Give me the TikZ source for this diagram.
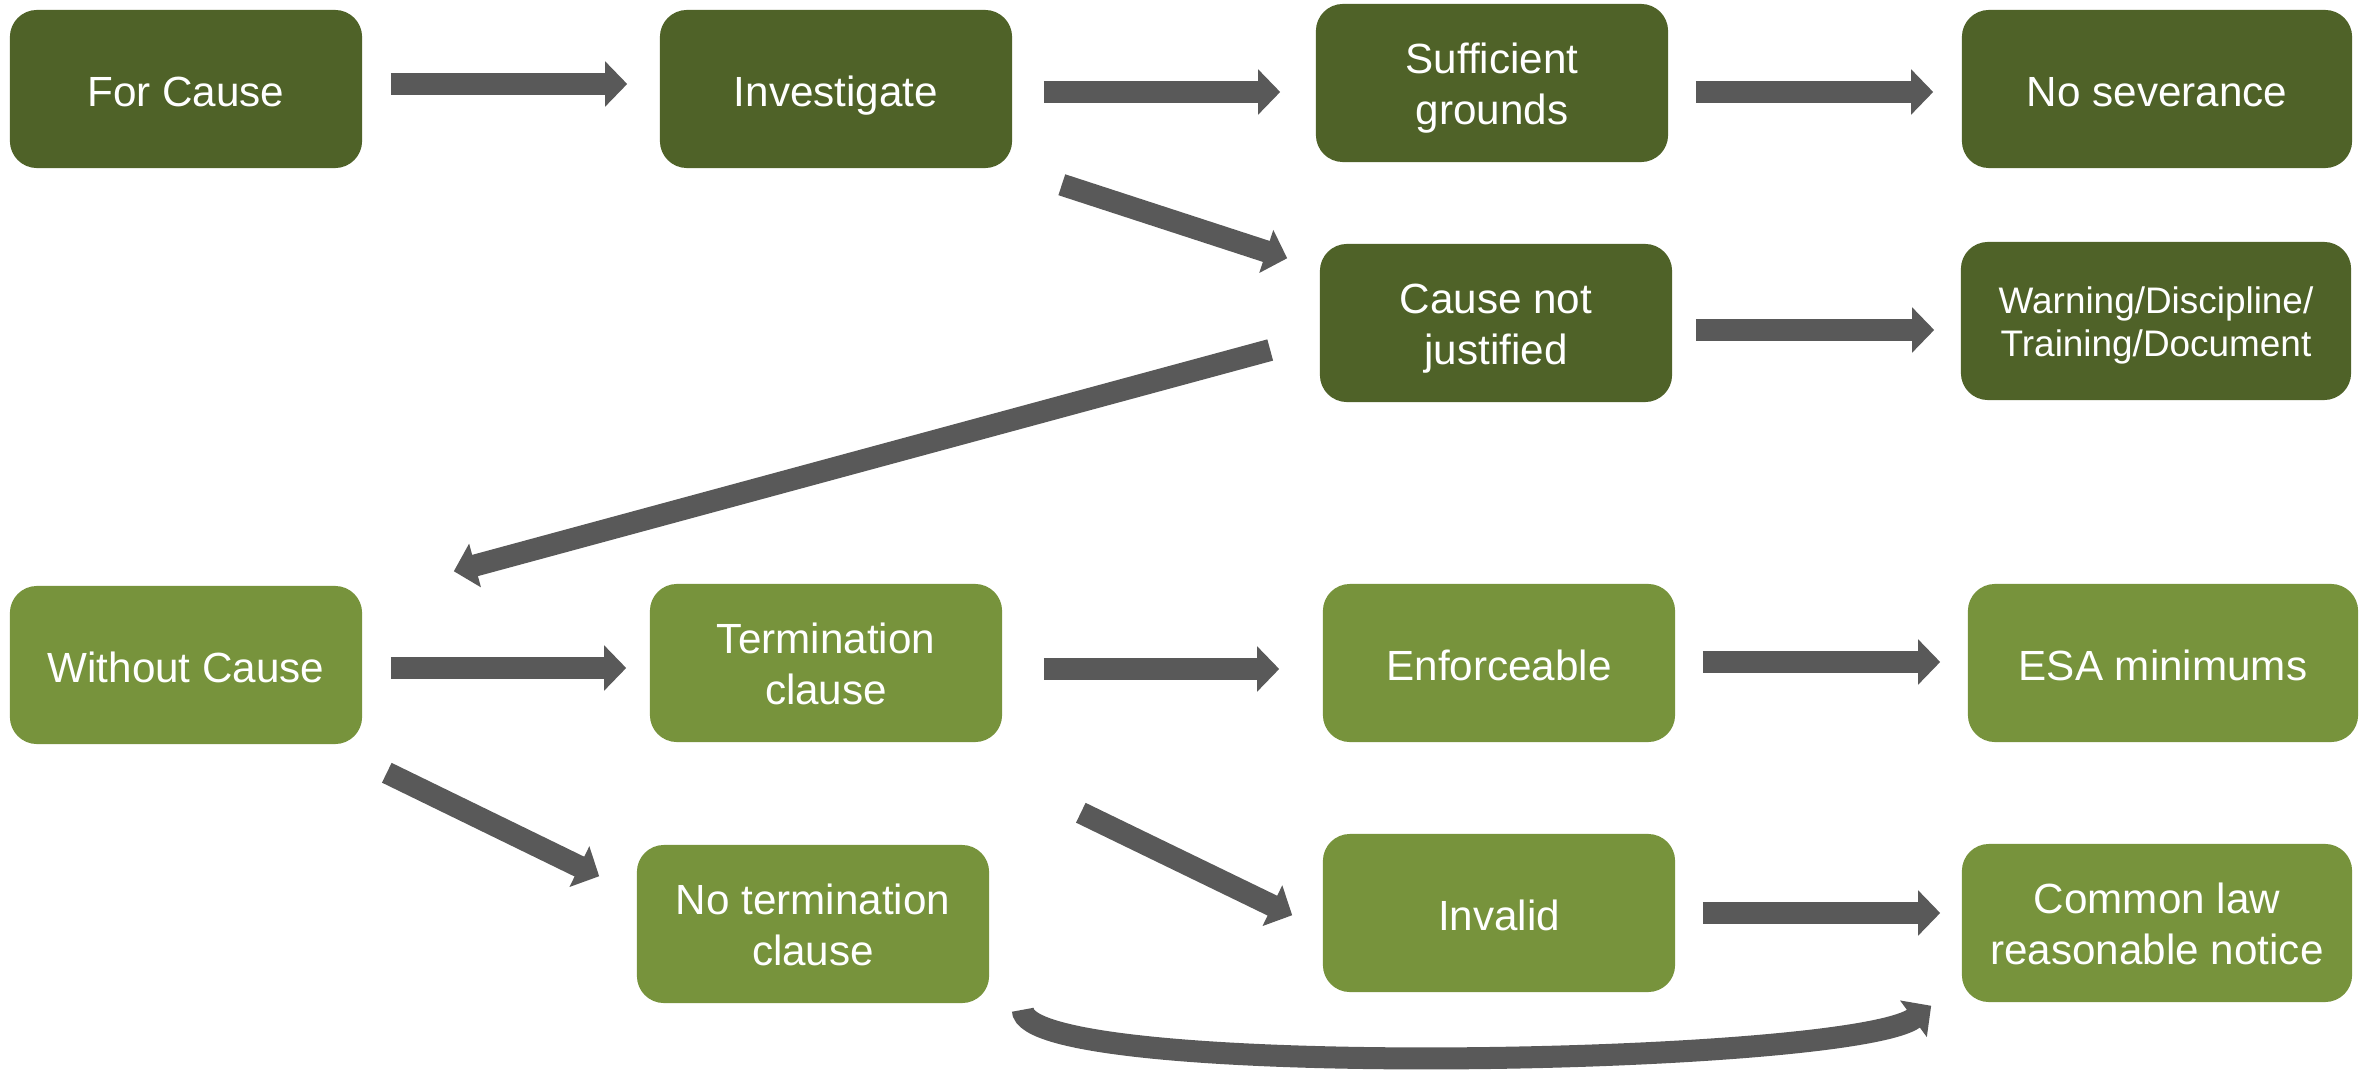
\documentclass[tikz,border=0pt]{standalone}
\usepackage{fontspec}
\setmainfont{Liberation Sans}
\usetikzlibrary{calc, positioning}
\usetikzlibrary{arrows.meta}

\definecolor{causedark}{HTML}{4F6228}
\definecolor{causelight}{HTML}{77933C}
\definecolor{arrowgrey}{HTML}{595959}

% extra room above the first line of a two-line box
\newcommand{\liftline}{\rule{0pt}{0.98em}}

\begin{document}
\begin{tikzpicture}[x=0.01cm, y=-0.01cm,
    box/.style={rounded corners=0.27cm, text=white, align=center,
        minimum width=3.52cm, minimum height=1.58cm, inner sep=0pt,
        font=\fontsize{12}{14.4}\selectfont,
        execute at begin node=\rule{0pt}{1.03em},
        execute at end node=\rule[-0.22em]{0pt}{0.22em}},
    widebox/.style={box, minimum width=3.90cm},
    darkbox/.style={fill=causedark},
    lightbox/.style={fill=causelight},
    blockarrow/.style={draw=arrowgrey, line width=0.22cm,
        -{Triangle[length=0.22cm, width=0.44cm]}, arrowgrey}]
\useasboundingbox (0,0) rectangle (2369,1073);

% for cause branch
\node[box, darkbox] (fc) at (186,89) {For Cause};
\node[box, darkbox] (inv) at (836,89) {Investigate};
\node[box, darkbox] (suf) at (1492,83) {\liftline Sufficient\\grounds};
\node[widebox, darkbox] (nosev) at (2157,89) {No severance};
\node[box, darkbox] (cnj) at (1496,323) {\liftline Cause not\\justified};
\node[widebox, darkbox, font=\fontsize{10.5}{12.3}\selectfont] (warn) at (2156,321)
    {\liftline Warning/Discipline/\\Training/Document};

% without cause branch
\node[box, lightbox] (wc) at (186,665) {Without Cause};
\node[box, lightbox] (term) at (826,663) {\liftline Termination\\clause};
\node[box, lightbox] (enf) at (1499,663) {Enforceable};
\node[widebox, lightbox] (esa) at (2163,663) {ESA minimums};
\node[box, lightbox] (noterm) at (813,924) {\liftline No termination\\clause};
\node[box, lightbox] (inval) at (1499,913) {Invalid};
\node[widebox, lightbox] (cl) at (2157,923) {\liftline Common law\\reasonable notice};

\draw[blockarrow] ($(fc.east)+(28,-5)$) -- ($(inv.west)+(-32,-5)$);
\draw[blockarrow] ($(inv.east)+(31,3)$) -- ($(suf.west)+(-35,9)$);
\draw[blockarrow] ($(suf.east)+(27,9)$) -- ($(nosev.west)+(-28,3)$);
\draw[blockarrow] ($(inv.south east)+(49,16)$) -- ($(cnj.north west)+(-32,15)$);
\draw[blockarrow] ($(cnj.east)+(23,7)$) -- ($(warn.west)+(-26,9)$);
\draw[blockarrow] ($(cnj.west)+(-49,27)$) -- ($(wc.north east)+(91,-14)$);

\draw[blockarrow] ($(wc.east)+(28,3)$) -- ($(term.west)+(-23,5)$);
\draw[blockarrow] ($(term.east)+(41,6)$) -- ($(enf.west)+(-43,6)$);
\draw[blockarrow] ($(enf.east)+(27,-1)$) -- ($(esa.west)+(-27,-1)$);
\draw[blockarrow] ($(wc.south east)+(24,28)$) -- ($(noterm.north west)+(-37,32)$);
\draw[blockarrow] ($(term.south east)+(78,70)$) -- ($(inval.north west)+(-30,82)$);
\draw[blockarrow] ($(inval.east)+(27,0)$) -- ($(cl.west)+(-21,-10)$);

% sweep under the bottom row
\coordinate (sweepA) at ($(noterm.south east)+(33,6)$);
\coordinate (sweepB) at ($(cl.south west)+(-30,3)$);
\draw[blockarrow] (sweepA) .. controls ($(sweepA)+(0,71)$) and ($(sweepB)+(-82,60)$) .. (sweepB);
\end{tikzpicture}
\end{document}
